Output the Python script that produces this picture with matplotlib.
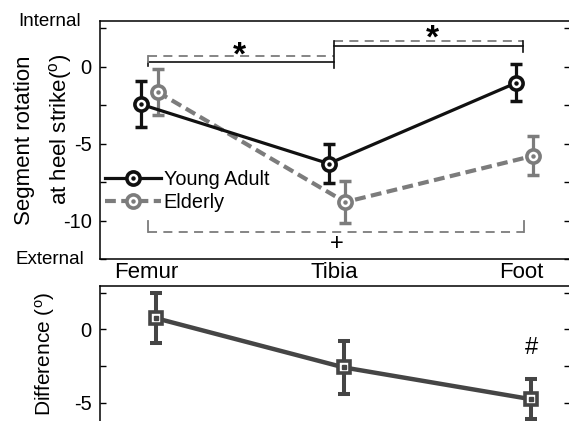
import matplotlib
matplotlib.use("Agg")
import matplotlib.pyplot as plt
from matplotlib.legend_handler import HandlerTuple
from matplotlib.ticker import MultipleLocator

plt.rcParams['font.family'] = 'Liberation Sans'
plt.rcParams['mathtext.fontset'] = 'custom'
plt.rcParams['mathtext.rm'] = 'Liberation Sans'
plt.rcParams['mathtext.default'] = 'regular'
plt.rcParams['axes.unicode_minus'] = False

# data
segments = ['Femur', 'Tibia', 'Foot']
young_mean = [-2.45, -6.3, -1.05]
young_err = [1.5, 1.25, 1.2]
elderly_mean = [-1.65, -8.8, -5.8]
elderly_err = [1.5, 1.35, 1.27]
diff_mean = [0.75, -2.6, -4.77]
diff_err = [1.7, 1.82, 1.38]

BLACK = '#111111'
GRAY = '#7c7c7c'
DARK = '#454545'

W, H = 569, 421
fig = plt.figure(figsize=(W / 100, H / 100), dpi=100)

def px_axes(x0, y0, x1, y1):
    # pixel box (top-left origin) -> figure axes
    return fig.add_axes([x0 / W, 1 - y1 / H, (x1 - x0) / W, (y1 - y0) / H])

ax = px_axes(100, 21, 570, 259)
ax2 = px_axes(100, 285.7, 570, 450)

x = [1, 2, 3]
off = 0.044
xy = [v - off for v in x]
xe = [v + off for v in x]
xd = [v + 0.036 for v in x]

# top panel
ax.errorbar(xe, elderly_mean, yerr=elderly_err, fmt='none', ecolor=GRAY,
            elinewidth=2.3, capsize=4.2, capthick=2.5, zorder=2)
l_eld, = ax.plot(xe, elderly_mean, color=GRAY, lw=3, ls=(0, (2.6, 1.3)),
                 marker='o', ms=9.5, mew=2.6, mfc='white', mec=GRAY, zorder=3)
d_eld, = ax.plot(xe, elderly_mean, ls='none', marker='o', ms=2.2, color=GRAY, zorder=4)

ax.errorbar(xy, young_mean, yerr=young_err, fmt='none', ecolor=BLACK,
            elinewidth=2.3, capsize=4.2, capthick=2.5, zorder=5)
l_young, = ax.plot(xy, young_mean, color=BLACK, lw=2.3, marker='o', ms=9.5,
                   mew=2.6, mfc='white', mec=BLACK, zorder=6)
d_young, = ax.plot(xy, young_mean, ls='none', marker='o', ms=2.2, color=BLACK, zorder=7)

# significance brackets
dash = dict(color=GRAY, lw=1.3, ls=(0, (5, 3.5)))
solid = dict(color=BLACK, lw=1.2)
ax.plot([0.99, 1.985], [0.69, 0.69], **dash)
ax.plot([0.99, 0.99, 1.985], [0.05, 0.32, 0.32], **solid)
ax.plot([0.99, 0.99], [0.32, 0.69], color=GRAY, lw=1.3)
ax.plot([1.985, 2.99], [1.69, 1.69], **dash)
ax.plot([1.985, 2.99], [1.36, 1.36], **solid)
ax.plot([1.985, 1.985], [-0.1, 1.69], color=BLACK, lw=1.2)
ax.plot([2.99, 2.99], [0.93, 1.69], color=BLACK, lw=1.2)
ax.plot([0.99, 3.0], [-10.75, -10.75], **dash)
ax.plot([0.99, 0.99], [-10.0, -10.75], color=GRAY, lw=1.3)
ax.plot([3.0, 3.0], [-10.0, -10.75], color=GRAY, lw=1.3)
ax.text(1.48, 0.15, '*', fontsize=24, fontweight='bold', ha='center', va='baseline')
ax.text(2.51, 1.25, '*', fontsize=24, fontweight='bold', ha='center', va='baseline')
ax.text(2.0, -11.5, '+', fontsize=17, ha='center', va='center')

ax.set_xlim(0.736, 3.243)
ax.set_ylim(-12.5, 2.97)
ax.yaxis.set_major_locator(MultipleLocator(5))
ax.yaxis.set_minor_locator(MultipleLocator(2.5))
ax.tick_params(axis='y', which='both', direction='in', right=True, length=4,
               width=1, labelsize=14.5, pad=6)
ax.set_xticks([0.985, 1.985, 2.985])
ax.set_xticklabels(segments)
ax.tick_params(axis='x', length=0, labelsize=16, pad=2)
for s in ax.spines.values():
    s.set_linewidth(1.1)

ax.legend([(l_young, d_young), (l_eld, d_eld)], ['Young Adult', 'Elderly'],
          handler_map={tuple: HandlerTuple(ndivide=1)},
          loc='center left', bbox_to_anchor=(105 / W, 1 - 191 / H),
          bbox_transform=fig.transFigure, frameon=False, fontsize=14.3,
          handlelength=2.8, handletextpad=0.15, labelspacing=0.22,
          borderpad=0, borderaxespad=0)

# bottom panel
ax2.errorbar(xd, diff_mean, yerr=diff_err, fmt='none', ecolor=DARK,
             elinewidth=2.9, capsize=4.3, capthick=2.9, zorder=2)
ax2.plot(xd, diff_mean, color=DARK, lw=3.2, marker='s', ms=8.3, mew=2.6,
         mfc='white', mec=DARK, zorder=3)
ax2.plot(xd, diff_mean, ls='none', marker='s', ms=2.2, color=DARK, zorder=4)
ax2.text(3.036, -1.29, '#', fontsize=17, ha='center', va='center')

ax2.set_xlim(0.736, 3.243)
ax2.set_ylim(-8.23, 2.97)
ax2.set_xticks([])
ax2.yaxis.set_major_locator(MultipleLocator(5))
ax2.yaxis.set_minor_locator(MultipleLocator(2.5))
ax2.tick_params(axis='y', which='both', direction='in', right=True, length=4,
                width=1, labelsize=14.5, pad=6)
for s in ax2.spines.values():
    s.set_linewidth(1.1)

# axis titles
fig.text(25 / W, 1 - 140 / H, 'Segment rotation', rotation=90, fontsize=16,
         ha='center', va='center')
fig.text(60 / W, 1 - 129 / H, 'at heel strike($^o$)', rotation=90, fontsize=16,
         ha='center', va='center')
fig.text(50 / W, 1 - 21 / H, 'Internal', fontsize=13.5, ha='center', va='center')
fig.text(50 / W, 1 - 260 / H, 'External', fontsize=13.5, ha='center', va='center')
fig.text(45 / W, 1 - 354 / H, 'Difference ($^o$)', rotation=90, fontsize=15,
         ha='center', va='center')

fig.savefig('out.png', dpi=100)
